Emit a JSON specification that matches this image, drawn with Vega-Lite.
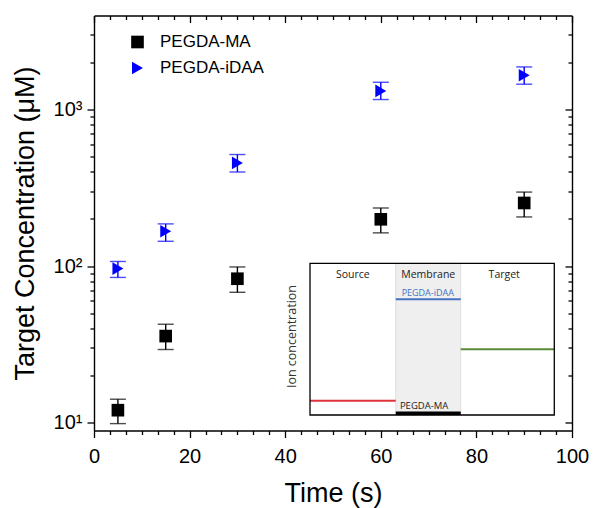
{
  "$schema": "https://vega.github.io/schema/vega-lite/v6.json",
  "width": 478,
  "height": 415,
  "autosize": {"type": "none"},
  "padding": {"left": 94, "top": 15.5, "right": 22, "bottom": 77.5},
  "background": "white",
  "config": {
    "view": {"stroke": null},
    "axis": {
      "grid": false,
      "domainColor": "black",
      "tickColor": "black",
      "labelColor": "black",
      "titleColor": "black",
      "labelFont": "Liberation Sans",
      "titleFont": "Liberation Sans",
      "labelFontSize": 20,
      "titleFontSize": 27,
      "titleFontWeight": "normal",
      "domainWidth": 1.4,
      "tickWidth": 1.3
    }
  },
  "datasets": {
    "pts": [
      {"series": "PEGDA-MA", "time": 5, "conc": 12, "lo": 9.85, "hi": 14.1},
      {"series": "PEGDA-MA", "time": 15, "conc": 35.7, "lo": 29.3, "hi": 42.5},
      {"series": "PEGDA-MA", "time": 30, "conc": 83, "lo": 68, "hi": 98.7},
      {"series": "PEGDA-MA", "time": 60, "conc": 199, "lo": 163, "hi": 235},
      {"series": "PEGDA-MA", "time": 90, "conc": 253, "lo": 206, "hi": 297},
      {"series": "PEGDA-iDAA", "time": 5, "conc": 96.4, "lo": 84.6, "hi": 107},
      {"series": "PEGDA-iDAA", "time": 15, "conc": 167, "lo": 144, "hi": 186},
      {"series": "PEGDA-iDAA", "time": 30, "conc": 456, "lo": 399, "hi": 516},
      {"series": "PEGDA-iDAA", "time": 60, "conc": 1315, "lo": 1159, "hi": 1494},
      {"series": "PEGDA-iDAA", "time": 90, "conc": 1656, "lo": 1452, "hi": 1872}
    ],
    "levels": [
      {"line": "Source", "x0": 0, "x1": 35.1, "level": 9.4},
      {"line": "PEGDA-iDAA", "x0": 35.1, "x1": 61.7, "level": 76.3},
      {"line": "Target", "x0": 61.7, "x1": 100, "level": 43.3},
      {"line": "PEGDA-MA", "x0": 35.1, "x1": 61.7, "level": 1.2}
    ]
  },
  "resolve": {"scale": {"x": "independent", "y": "independent", "color": "independent", "shape": "independent"}},
  "layer": [
    {
      "data": {"name": "pts"},
      "resolve": {"axis": {"x": "independent", "y": "independent"}},
      "layer": [
        {
          "mark": {"type": "rule", "strokeWidth": 1.4},
          "encoding": {
            "x": {"field": "time", "type": "quantitative",
              "scale": {"domain": [0, 100], "nice": false},
              "axis": {"orient": "bottom", "values": [0, 20, 40, 60, 80, 100], "tickSize": 7, "labelPadding": 9, "labelFlush": false, "title": "Time (s)", "titlePadding": 14}},
            "y": {"field": "lo", "type": "quantitative",
              "scale": {"type": "log", "domain": [8.9, 3990], "nice": false},
              "axis": {"orient": "left", "values": [10, 100, 1000], "tickSize": 7, "labelPadding": 5, "labelFlush": false,
                "labelExpr": "datum.value == 10 ? '10¹' : datum.value == 100 ? '10²' : datum.value == 1000 ? '10³' : ''",
                "title": "Target Concentration (μM)", "titlePadding": 14}},
            "y2": {"field": "hi"},
            "stroke": {"field": "series", "type": "nominal",
              "scale": {"domain": ["PEGDA-MA", "PEGDA-iDAA"], "range": ["#000000", "#0000ff"]}, "legend": null}
          }
        },
        {
          "transform": [{"fold": ["lo", "hi"], "as": ["bound", "val"]}],
          "mark": {"type": "tick", "orient": "horizontal", "size": 16, "thickness": 1.4},
          "encoding": {
            "x": {"field": "time", "type": "quantitative",
              "scale": {"domain": [0, 100], "nice": false},
              "axis": {"orient": "bottom", "values": [3.333, 6.667, 10, 13.333, 16.667, 23.333, 26.667, 30, 33.333, 36.667, 43.333, 46.667, 50, 53.333, 56.667, 63.333, 66.667, 70, 73.333, 76.667, 83.333, 86.667, 90, 93.333, 96.667], "tickSize": 4, "labels": false, "domain": false, "title": null}},
            "y": {"field": "val", "type": "quantitative",
              "scale": {"type": "log", "domain": [8.9, 3990], "nice": false},
              "axis": {"orient": "left", "values": [20, 30, 40, 50, 60, 70, 80, 90, 200, 300, 400, 500, 600, 700, 800, 900, 2000, 3000], "tickSize": 4, "labels": false, "domain": false, "title": null}},
            "fill": {"field": "series", "type": "nominal",
              "scale": {"domain": ["PEGDA-MA", "PEGDA-iDAA"], "range": ["#000000", "#0000ff"]}, "legend": null}
          }
        },
        {
          "mark": {"type": "point", "filled": true, "size": 160, "opacity": 1},
          "encoding": {
            "x": {"field": "time", "type": "quantitative",
              "scale": {"domain": [0, 100], "nice": false},
              "axis": {"orient": "top", "values": [0, 20, 40, 60, 80, 100], "tickSize": -7, "labels": false, "title": null}},
            "y": {"field": "conc", "type": "quantitative",
              "scale": {"type": "log", "domain": [8.9, 3990], "nice": false},
              "axis": {"orient": "right", "values": [10, 100, 1000], "tickSize": -7, "labels": false, "title": null}},
            "color": {"field": "series", "type": "nominal",
              "scale": {"domain": ["PEGDA-MA", "PEGDA-iDAA"], "range": ["#000000", "#0000ff"]},
              "legend": {"orient": "none", "legendX": 35, "legendY": 18, "title": null, "labelFont": "Liberation Sans", "labelFontSize": 17, "labelColor": "black", "symbolSize": 160, "rowPadding": 7, "labelOffset": 14, "padding": 0, "symbolOpacity": 1}},
            "shape": {"field": "series", "type": "nominal",
              "scale": {"domain": ["PEGDA-MA", "PEGDA-iDAA"], "range": ["square", "triangle-right"]},
              "legend": {"orient": "none", "legendX": 35, "legendY": 18, "title": null, "labelFont": "Liberation Sans", "labelFontSize": 17, "labelColor": "black", "symbolSize": 160, "rowPadding": 7, "labelOffset": 14, "padding": 0, "symbolOpacity": 1}}
          }
        },
        {
          "mark": {"type": "rule", "opacity": 0},
          "encoding": {
            "x": {"field": "time", "type": "quantitative",
              "scale": {"domain": [0, 100], "nice": false},
              "axis": {"orient": "top", "values": [3.333, 6.667, 10, 13.333, 16.667, 23.333, 26.667, 30, 33.333, 36.667, 43.333, 46.667, 50, 53.333, 56.667, 63.333, 66.667, 70, 73.333, 76.667, 83.333, 86.667, 90, 93.333, 96.667], "tickSize": -4, "labels": false, "domain": false, "title": null}},
            "y": {"field": "lo", "type": "quantitative",
              "scale": {"type": "log", "domain": [8.9, 3990], "nice": false},
              "axis": {"orient": "right", "values": [20, 30, 40, 50, 60, 70, 80, 90, 200, 300, 400, 500, 600, 700, 800, 900, 2000, 3000], "tickSize": -4, "labels": false, "domain": false, "title": null}},
            "y2": {"field": "hi"}
          }
        }
      ]
    },
    {
      "layer": [
        {
          "data": {"values": [{"x0": 0, "x1": 100, "y0": 0, "y1": 100}]},
          "mark": {"type": "rect", "fill": "white", "strokeWidth": 0},
          "encoding": {
            "x": {"field": "x0", "type": "quantitative", "scale": {"domain": [0, 100], "range": [216, 460.3], "nice": false}, "axis": null},
            "x2": {"field": "x1"},
            "y": {"field": "y0", "type": "quantitative", "scale": {"domain": [0, 100], "range": [399.5, 247.8], "nice": false}, "axis": null},
            "y2": {"field": "y1"}
          }
        },
        {
          "data": {"values": [{"x0": 35.1, "x1": 61.7, "y0": 0, "y1": 100}]},
          "mark": {"type": "rect", "fill": "#efefef", "stroke": "#d8d8d8", "strokeWidth": 0.8},
          "encoding": {
            "x": {"field": "x0", "type": "quantitative", "scale": {"domain": [0, 100], "range": [216, 460.3], "nice": false}, "axis": null},
            "x2": {"field": "x1"},
            "y": {"field": "y0", "type": "quantitative", "scale": {"domain": [0, 100], "range": [399.5, 247.8], "nice": false}, "axis": null},
            "y2": {"field": "y1"}
          }
        },
        {
          "data": {"name": "levels"},
          "transform": [{"filter": "datum.line != 'PEGDA-MA'"}],
          "mark": {"type": "rule", "strokeWidth": 2},
          "encoding": {
            "x": {"field": "x0", "type": "quantitative", "scale": {"domain": [0, 100], "range": [216, 460.3], "nice": false}, "axis": null},
            "x2": {"field": "x1"},
            "y": {"field": "level", "type": "quantitative", "scale": {"domain": [0, 100], "range": [399.5, 247.8], "nice": false}, "axis": null},
            "color": {"field": "line", "type": "nominal", "scale": {"domain": ["Source", "PEGDA-iDAA", "Target"], "range": ["#e0323c", "#4472c4", "#5a8a3a"]}, "legend": null}
          }
        },
        {
          "data": {"name": "levels"},
          "transform": [{"filter": "datum.line == 'PEGDA-MA'"}],
          "mark": {"type": "rule", "strokeWidth": 3.5, "color": "black"},
          "encoding": {
            "x": {"field": "x0", "type": "quantitative", "scale": {"domain": [0, 100], "range": [216, 460.3], "nice": false}, "axis": null},
            "x2": {"field": "x1"},
            "y": {"field": "level", "type": "quantitative", "scale": {"domain": [0, 100], "range": [399.5, 247.8], "nice": false}, "axis": null}
          }
        },
        {
          "data": {"values": [{"x0": 0, "x1": 100, "y0": 0, "y1": 100}]},
          "mark": {"type": "rect", "filled": false, "stroke": "black", "strokeWidth": 1.3},
          "encoding": {
            "x": {"field": "x0", "type": "quantitative", "scale": {"domain": [0, 100], "range": [216, 460.3], "nice": false}, "axis": null},
            "x2": {"field": "x1"},
            "y": {"field": "y0", "type": "quantitative", "scale": {"domain": [0, 100], "range": [399.5, 247.8], "nice": false}, "axis": null},
            "y2": {"field": "y1"}
          }
        },
        {
          "data": {"values": [
            {"label": "Source", "x": 17.5, "y": 92.3},
            {"label": "Membrane", "x": 48.4, "y": 92.3},
            {"label": "Target", "x": 79.5, "y": 92.3}
          ]},
          "mark": {"type": "text", "font": "Open Sans", "fontSize": 10.5, "color": "#222222", "baseline": "middle", "align": "center"},
          "encoding": {
            "x": {"field": "x", "type": "quantitative", "scale": {"domain": [0, 100], "range": [216, 460.3], "nice": false}, "axis": null},
            "y": {"field": "y", "type": "quantitative", "scale": {"domain": [0, 100], "range": [399.5, 247.8], "nice": false}, "axis": null},
            "text": {"field": "label"}
          }
        },
        {
          "data": {"values": [{"label": "PEGDA-iDAA", "x": 48.2, "y": 80.6}]},
          "mark": {"type": "text", "font": "Open Sans", "fontSize": 9, "color": "#4472c4", "baseline": "middle", "align": "center"},
          "encoding": {
            "x": {"field": "x", "type": "quantitative", "scale": {"domain": [0, 100], "range": [216, 460.3], "nice": false}, "axis": null},
            "y": {"field": "y", "type": "quantitative", "scale": {"domain": [0, 100], "range": [399.5, 247.8], "nice": false}, "axis": null},
            "text": {"field": "label"}
          }
        },
        {
          "data": {"values": [{"label": "PEGDA-MA", "x": 46.7, "y": 6.1}]},
          "mark": {"type": "text", "font": "Open Sans", "fontSize": 9.5, "color": "#222222", "baseline": "middle", "align": "center"},
          "encoding": {
            "x": {"field": "x", "type": "quantitative", "scale": {"domain": [0, 100], "range": [216, 460.3], "nice": false}, "axis": null},
            "y": {"field": "y", "type": "quantitative", "scale": {"domain": [0, 100], "range": [399.5, 247.8], "nice": false}, "axis": null},
            "text": {"field": "label"}
          }
        },
        {
          "data": {"values": [{"label": "Ion concentration", "x": -7.2, "y": 51.7}]},
          "mark": {"type": "text", "font": "Open Sans", "fontSize": 12.5, "color": "#333333", "baseline": "middle", "align": "center", "angle": 270},
          "encoding": {
            "x": {"field": "x", "type": "quantitative", "scale": {"domain": [0, 100], "range": [216, 460.3], "nice": false}, "axis": null},
            "y": {"field": "y", "type": "quantitative", "scale": {"domain": [0, 100], "range": [399.5, 247.8], "nice": false}, "axis": null},
            "text": {"field": "label"}
          }
        }
      ]
    }
  ]
}
